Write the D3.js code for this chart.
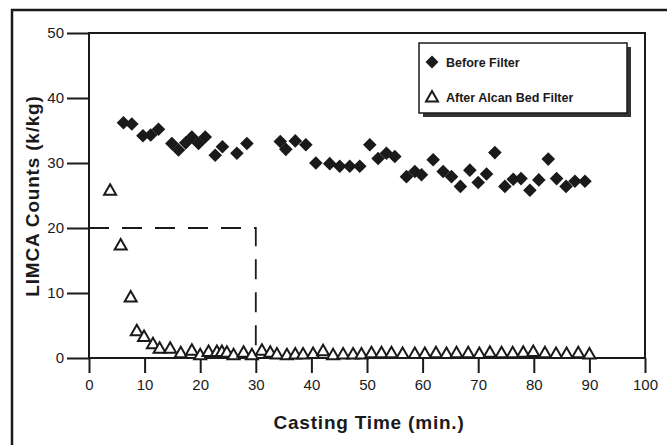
<!DOCTYPE html>
<html>
<head>
<meta charset="utf-8">
<script src="https://cdn.jsdelivr.net/npm/d3@7"></script>
<style>
  body { margin: 0; background: #fff; }
  svg text { font-family: "Liberation Sans", Arial, sans-serif; fill: #1a1a1a; }
</style>
</head>
<body>
<div id="chart"></div>
<script>
// data
const beforeX = [6.2, 7.7, 9.7, 11.1, 12.5, 14.9, 16.1, 17.4, 18.5, 19.7, 20.9, 22.7, 24.0, 26.6, 28.4,
  34.4, 35.4, 37.1, 39.0, 40.8, 43.3, 45.1, 46.9, 48.7, 50.5, 52.0, 53.5, 55.0, 57.1, 58.6, 59.8,
  61.9, 63.7, 65.2, 66.8, 68.5, 70.0, 71.5, 73.0, 74.8, 76.3, 77.7, 79.3, 80.9, 82.6, 84.1, 85.8, 87.4, 89.2];
const beforeY = [36.2, 36.0, 34.2, 34.3, 35.2, 33.0, 32.0, 33.1, 34.0, 33.0, 34.0, 31.2, 32.5, 31.5, 33.0,
  33.3, 32.1, 33.4, 32.8, 30.0, 29.9, 29.5, 29.5, 29.5, 32.8, 30.7, 31.5, 31.0, 27.9, 28.7, 28.2,
  30.5, 28.7, 27.9, 26.4, 28.9, 27.0, 28.3, 31.6, 26.4, 27.5, 27.6, 25.8, 27.4, 30.6, 27.6, 26.4, 27.2, 27.2];

const afterX = [3.8, 5.7, 7.5, 8.6, 9.9, 11.5, 12.7, 14.6, 16.5, 18.5, 20.0, 21.5, 23.0, 23.9, 24.8, 26.0,
  27.8, 29.3, 31.1, 32.6, 33.8, 35.6, 37.1, 38.5, 40.3, 42.1, 43.9, 45.7, 47.5, 49.0, 50.8, 52.6, 54.4,
  56.4, 58.6, 60.4, 62.4, 64.3, 66.1, 68.2, 70.2, 72.1, 74.2, 76.2, 78.1, 79.9, 82.0, 84.0, 85.9, 88.0, 90.0];
const afterY = [25.8, 17.4, 9.4, 4.2, 3.3, 2.2, 1.5, 1.5, 0.8, 1.2, 0.5, 1.0, 1.0, 1.0, 0.9, 0.5,
  0.9, 0.5, 1.2, 0.9, 0.6, 0.5, 0.6, 0.6, 0.7, 1.1, 0.5, 0.6, 0.6, 0.6, 0.8, 0.8, 0.8,
  0.7, 0.7, 0.7, 0.8, 0.7, 0.8, 0.8, 0.7, 0.9, 0.8, 0.8, 0.9, 1.0, 0.8, 0.7, 0.7, 0.8, 0.6];

const xTicks = [0, 10, 20, 30, 40, 50, 60, 70, 80, 90, 100];
const yTicks = [0, 10, 20, 30, 40, 50];
const legendLabels = ['Before Filter', 'After Alcan Bed Filter'];
const boxCorner = [30, 20]; // dashed box: time, counts

const W = 667, H = 445;
const ink = '#1a1a1a';

const svg = d3.select('#chart').append('svg')
  .attr('width', W)
  .attr('height', H);

const x = d3.scaleLinear().domain([0, 100]).range([89, 645]);
const y = d3.scaleLinear().domain([0, 50]).range([358, 33]);

// outer frame (runs off the page right and bottom)
svg.append('path')
  .attr('d', `M12,${H + 5}V10H${W + 5}`)
  .attr('fill', 'none')
  .attr('stroke', ink)
  .attr('stroke-width', 2.5);

// axes
const yAxis = svg.append('g')
  .attr('transform', `translate(${x(0)},0)`)
  .call(d3.axisLeft(y).tickValues(yTicks).tickSize(22).tickPadding(3));
const xAxis = svg.append('g')
  .attr('transform', `translate(0,${y(0)})`)
  .call(d3.axisBottom(x).tickValues(xTicks).tickSize(15).tickPadding(6));

[yAxis, xAxis].forEach(g => {
  g.select('.domain').remove();
  g.selectAll('.tick line').attr('stroke', ink).attr('stroke-width', 2);
  g.selectAll('.tick text')
    .attr('font-size', 15)
    .attr('font-family', '"Liberation Sans", Arial, sans-serif')
    .attr('fill', ink);
});

// plot frame
svg.append('rect')
  .attr('x', x(0))
  .attr('y', y(50))
  .attr('width', x(100) - x(0))
  .attr('height', y(0) - y(50))
  .attr('fill', 'none')
  .attr('stroke', ink)
  .attr('stroke-width', 2);

// dashed box
svg.append('path')
  .attr('d', `M${x(0)},${y(boxCorner[1])}H${x(boxCorner[0])}V${y(0)}`)
  .attr('fill', 'none')
  .attr('stroke', ink)
  .attr('stroke-width', 1.8)
  .attr('stroke-dasharray', '20,13');

// markers
const diamond = 'M0,-6.8L6.8,0L0,6.8L-6.8,0Z';
const triangle = 'M0,-6L6,4.5L-6,4.5Z';

svg.append('g').selectAll('path')
  .data(d3.zip(afterX, afterY))
  .join('path')
  .attr('transform', d => `translate(${x(d[0])},${y(d[1])})`)
  .attr('d', triangle)
  .attr('fill', '#fff')
  .attr('stroke', ink)
  .attr('stroke-width', 2);

svg.append('g').selectAll('path')
  .data(d3.zip(beforeX, beforeY))
  .join('path')
  .attr('transform', d => `translate(${x(d[0])},${y(d[1])})`)
  .attr('d', diamond)
  .attr('fill', ink);

// legend
const lg = svg.append('g').attr('transform', 'translate(419,43)');
lg.append('rect').attr('x', 4).attr('y', 4).attr('width', 208).attr('height', 70).attr('fill', '#333');
lg.append('rect').attr('width', 208).attr('height', 70)
  .attr('fill', '#fff').attr('stroke', ink).attr('stroke-width', 1.5);
lg.append('path').attr('d', diamond).attr('transform', 'translate(13,19) scale(0.95)').attr('fill', ink);
lg.append('path').attr('d', triangle).attr('transform', 'translate(13,54)')
  .attr('fill', '#fff').attr('stroke', ink).attr('stroke-width', 2);
lg.selectAll('text.lab')
  .data(legendLabels)
  .join('text')
  .attr('class', 'lab')
  .attr('x', 27)
  .attr('y', (d, i) => 24 + i * 35)
  .attr('font-size', 12.5)
  .attr('font-weight', 'bold')
  .text(d => d);

// axis titles
svg.append('text')
  .attr('x', 369)
  .attr('y', 429)
  .attr('text-anchor', 'middle')
  .attr('font-size', 19)
  .attr('font-weight', 'bold')
  .attr('letter-spacing', 0.8)
  .text('Casting Time (min.)');

svg.append('text')
  .attr('transform', 'translate(39,196) rotate(-90)')
  .attr('text-anchor', 'middle')
  .attr('font-size', 19)
  .attr('font-weight', 'bold')
  .attr('letter-spacing', 0.8)
  .text('LIMCA Counts (k/kg)');
</script>
</body>
</html>
